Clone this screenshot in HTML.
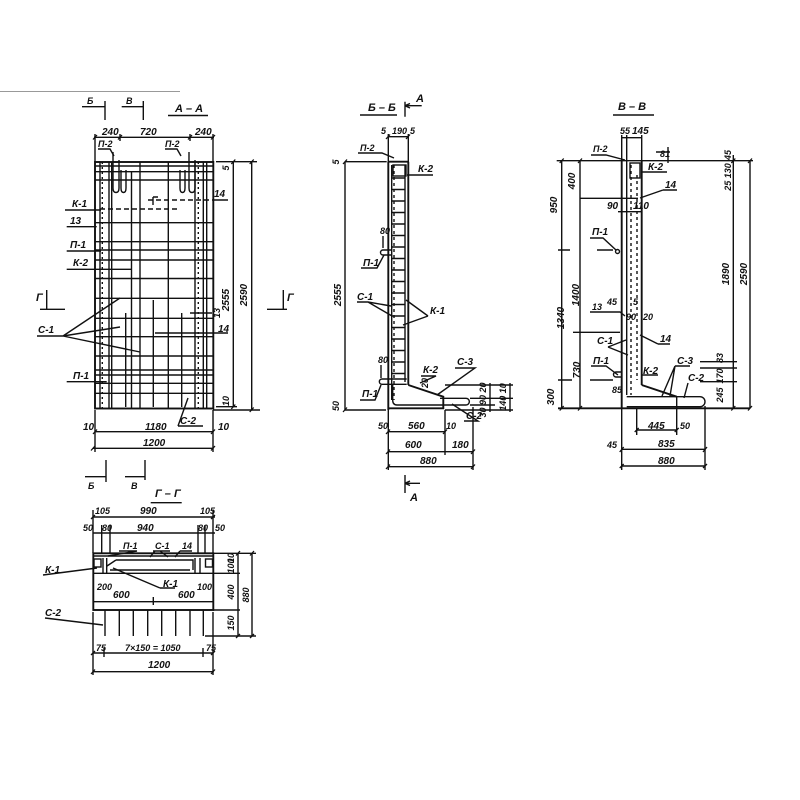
<!DOCTYPE html>
<html><head><meta charset="utf-8"><style>
html,body{margin:0;padding:0;background:#fff;}
svg{display:block;}
text{font-family:"Liberation Sans",sans-serif;font-style:italic;font-weight:bold;font-size:10px;fill:#111;}
.s{font-size:9px;}
.t{font-size:11px;}
</style></head><body>
<svg width="800" height="800" viewBox="0 0 800 800" xmlns="http://www.w3.org/2000/svg">
<rect width="800" height="800" fill="#fff"/>
<line x1="0" y1="91.5" x2="180" y2="91.5" stroke="#999" stroke-width="1"/>
<g stroke="#111" stroke-width="1.4" fill="none">
<!-- ===== A-A ===== -->
<path d="M82,106.7H105M105,101V120M121.7,106.7H143.3M143.3,101V120"/>
<path d="M168,115.5H208"/>
<path d="M94,137.3H214M95,134V162M213,134V162M120,134V141M190,134V141"/>
<path d="M98,149H110L114,156M165,149H177L181,156"/>
<rect x="95" y="162" width="118.3" height="246.5" stroke-width="1.9"/>
<path d="M95,166H213M95,171.7H213M95,180H213M95,222.7H213M95,241.7H213M95,250H213M95,260H213M95,278.5H213M95,298.3H213M95,318.3H213M95,336.7H213M95,356H213M95,370H213M95,375H213M95,383.3H213M95,393.3H213"/>
<path d="M148,200H212M100,209H180" stroke-dasharray="5,3"/>
<path d="M153,197V205M153,197H158"/>
<path d="M100,162V408M109,162V408M111.7,162V408M131.5,172V408M140,162V408M168.3,162V408M195,162V408M203.3,162V408M206.7,162V408M125.7,313V407M153.3,300V407M181.7,313V407"/>
<path d="M102.3,162V408M198.3,162V408" stroke-dasharray="2,3"/>
<path d="M113,152V188Q113,192.5 116,192.5Q119,192.5 119,188V160M121,170V188Q121,192.5 123.5,192.5Q126,192.5 126,188V170"/>
<path d="M180,170V188Q180,192.5 182.5,192.5Q185,192.5 185,188V170M189,152V188Q189,192.5 192,192.5Q195,192.5 195,188V160"/>
<path d="M216,161.7H257M233.3,161.7V407M251.7,161.7V410M216,406.7H237M213,410H260"/>
<path d="M212,200H228M155,333H228M190,313H212"/>
<path d="M40,309.3H65M46.7,290V309M267,309.3H287M283.3,290V309"/>
<path d="M65,210H101M66.7,226.7H96.7M66.7,251H101M66.7,269.3H131.7M37,336H63L120,298M63,336L120,327M63,336L140,352M66.7,381.7H106.7"/>
<path d="M178,426H203M178,426L188,398"/>
<path d="M95,410V452M213,410V452M95,431.7H213M93,448.3H213"/>
<!-- ===== Г-Г ===== -->
<path d="M85,476.7H106M106,460V482M125,476.7H145M145,460V480"/>
<path d="M150.7,502.7H181.7"/>
<path d="M93,517H215M93,533H215M93,510V553M213,510V553M101.7,525V553M110,525V553M198,525V553M205,525V553"/>
<rect x="93.3" y="553.3" width="120" height="56.7" stroke-width="1.9"/>
<path d="M93.3,556H213.3M93.3,573.3H213.3"/>
<path d="M103,573V558M106.7,573V558M195,573V558M200,573V558M116,560H193V570M107,566L116,560M110,570H190"/>
<rect x="94" y="559" width="7" height="8"/><rect x="205.5" y="559" width="7" height="8"/>
<path d="M119,551H137L108,556M153,551H170M155,551L150,557M160,551L168,557M180,551H192M180,551L175,557"/>
<path d="M43,575L97,568M160,588H175M160,588L113,568"/>
<path d="M93,601.7H213M153.3,597V605"/>
<path d="M105,610V636M119.3,610V636M133.3,610V636M147.7,610V636M161.7,610V636M175.7,610V636M190,610V636M203.3,610V636"/>
<path d="M45,618L103,625"/>
<path d="M238,553V636M252,553V636M213,553.3H256M213,573.3H240M213,610H240M205,636H256"/>
<path d="M93,653H213M104,648V657M203,648V657M93,671.7H213M93,612V675M213,612V675"/>
<!-- ===== Б-Б ===== -->
<path d="M360,115H397"/>
<path d="M405,101.7V116.7M405,105.7H421.7M405,105.7L410,103.5M405,105.7L410,108"/>
<path d="M388,136.7H408.3M388.3,134V162M408.3,134V162"/>
<path d="M388.3,161.7V410M408.3,161.7V385M388.3,161.7H408.3" stroke-width="1.9"/>
<path d="M391.7,165V400M405,165V382"/>
<path d="M394,165V400" stroke-dasharray="3,3"/>
<path d="M391.7,178H405M391.7,189.5H405M391.7,201H405M391.7,212.5H405M391.7,224H405M391.7,235.5H405M391.7,247H405M391.7,258.5H405M391.7,270H405M391.7,281.5H405M391.7,293H405M391.7,304.5H405M391.7,316H405M391.7,327.5H405M391.7,339H405M391.7,350.5H405M391.7,362H405M391.7,373.5H405"/>
<rect x="393" y="165" width="13" height="11"/>
<path d="M358,153H382L394,158M407,175H433"/>
<path d="M345,161.7H386.7M345,161.7V410M345,410H386"/>
<path d="M383,236V248M391.7,250H383A2.5,2.5 0 0 0 383,255H391.7M361,268H377L384,255"/>
<path d="M357,302H368L391,306M368,302L392,316M428,316L403,325M428,316L406,300"/>
<path d="M381,365V378M406.7,379H382A2.6,2.6 0 0 0 382,384.3H406.7M360,400H375L381,385"/>
<path d="M408.3,385L443.3,396.7V408.3H388.3" stroke-width="1.9"/>
<path d="M392.7,384V400Q392.7,405 397,405H440"/>
<path d="M440,398.3H466A3.3,3.3 0 0 1 466,405H440"/>
<path d="M421,376H436L420,383M455,368H475L437,395M464,421H478L452,404"/>
<path d="M445,385H513M470,398.3H513M470,405H495M445,410H513M490,383V412M510,383V412"/>
<path d="M388.3,410V470M445,410V455M473,407V470M388,431.7H445M388,451.7H473M388,466.7H473"/>
<path d="M405,475V493M405,483.3H420M405,483.3L410,481M405,483.3L410,485.5"/>
<!-- ===== В-В ===== -->
<path d="M613,115H654"/>
<path d="M621,137.7H642M621.7,135V161M626.7,135V161M641.7,135V161"/>
<path d="M591,155H606L625,160M656,152H670M668,147V163"/>
<path d="M556.7,160.7H753"/>
<path d="M621.7,160.7V408M641.7,160.7V385" stroke-width="1.9"/>
<path d="M626.7,160.7V395"/>
<path d="M637,175V380M631,165V395" stroke-dasharray="3,3"/>
<rect x="630" y="163" width="10" height="15"/>
<path d="M641.7,172H667M663,190H677M663,190L640,198M580,198.3H638M618,211.7H642"/>
<path d="M561.7,160.7V408M580,160.7V408M733.3,155V408M750,160.7V408"/>
<path d="M590,238H603L616,250M558,250H570M597,250H613"/>
<circle cx="617.5" cy="251.5" r="2"/>
<path d="M590,312H620L625,316M573,332.3H620M658,344H670M658,344L640,335M608,347L626,340M608,347L628,355"/>
<path d="M591,366H606L618,375M621.7,372H616A2.5,2.5 0 0 0 616,377H621.7M641.7,375H658"/>
<path d="M558,380H572M590,380H613"/>
<path d="M675,366H690M675,366L670,396M675,366L662,396M688,383L684,398"/>
<path d="M700,361.7H737M700,368H737M700,381.7H737"/>
<path d="M641.7,385L676.7,396.7" stroke-width="1.9"/>
<path d="M558,408.3H750" stroke-width="1.9"/>
<path d="M626.7,396.7H700A5,5 0 0 1 700,406.7H626.7"/>
<path d="M676.7,396.7V408"/>
<path d="M621.7,408V470M636.7,408V435M676.7,408V435M705,406V470M636.7,430H676.7M621.7,449.3H705M621.7,466H705"/>
</g>
<!-- dim ticks -->
<g stroke="#111" stroke-width="1.3">
<path d="M93,139.5L97,135M118,139.5L122,135M188,139.5L192,135M211,139.5L215,135M93,434L97,429.5M211,434L215,429.5M91,450.5L95,446M211,450.5L215,446M386,139L390,134.5M406,139L410,134.5M386,434L390,429.5M443,434L447,429.5M386,454L390,449.5M471,454L475,449.5M386,469L390,464.5M471,469L475,464.5M619.7,452L623.7,447M703,452L707,447M619.7,468L623.7,464M703,468L707,464M634.7,432L638.7,428M674.7,432L678.7,428M559.7,163L563.7,158.5M578,163L582,158.5M731.3,163L735.3,158.5M748,163L752,158.5M559.7,410.5L563.7,406M578,410.5L582,406M731.3,410.5L735.3,406M748,410.5L752,406M231.3,164L235.3,159.5M249.7,164L253.7,159.5M231.3,409L235.3,404.5M249.7,412L253.7,407.5M343,164L347,159.5M343,412L347,407.5M91,519L95,515M211,519L215,515M91,655L95,651M211,655L215,651M91,674L95,669.5M211,674L215,669.5M236,555.5L240,551M250,555.5L254,551M236,638L240,634M250,638L254,634"/>
</g>
<!-- ===== texts A-A ===== -->
<text x="87" y="104" class="s">Б</text>
<text x="126" y="104" class="s">В</text>
<text x="175" y="112" class="t">А – А</text>
<text x="102" y="135">240</text>
<text x="140" y="135">720</text>
<text x="195" y="135">240</text>
<text x="98" y="147" class="s">П-2</text>
<text x="165" y="147" class="s">П-2</text>
<text x="72" y="207">К-1</text>
<text x="70" y="224">13</text>
<text x="70" y="248">П-1</text>
<text x="73" y="266">К-2</text>
<text x="38" y="333">С-1</text>
<text x="73" y="379">П-1</text>
<text x="36" y="301" class="t">Г</text>
<text x="287" y="301" class="t">Г</text>
<text x="214" y="197">14</text>
<text x="218" y="332">14</text>
<text x="180" y="424">С-2</text>
<text x="83" y="430">10</text>
<text x="145" y="430">1180</text>
<text x="218" y="430">10</text>
<text x="143" y="446">1200</text>
<text transform="translate(229,168) rotate(-90)" text-anchor="middle" class="s">5</text>
<text transform="translate(229,300) rotate(-90)" text-anchor="middle">2555</text>
<text transform="translate(247,295) rotate(-90)" text-anchor="middle">2590</text>
<text transform="translate(220,313) rotate(-90)" text-anchor="middle" class="s">13</text>
<text transform="translate(229,401) rotate(-90)" text-anchor="middle" class="s">10</text>
<!-- ===== texts Г-Г ===== -->
<text x="88" y="489" class="s">Б</text>
<text x="131" y="489" class="s">В</text>
<text x="155" y="497" class="t">Г – Г</text>
<text x="95" y="514" class="s">105</text>
<text x="140" y="514">990</text>
<text x="200" y="514" class="s">105</text>
<text x="83" y="531" class="s">50</text>
<text x="102" y="531" class="s">80</text>
<text x="137" y="531">940</text>
<text x="198" y="531" class="s">80</text>
<text x="215" y="531" class="s">50</text>
<text x="123" y="549" class="s">П-1</text>
<text x="155" y="549" class="s">С-1</text>
<text x="182" y="549" class="s">14</text>
<text x="45" y="573">К-1</text>
<text x="163" y="587">К-1</text>
<text x="97" y="590" class="s">200</text>
<text x="197" y="590" class="s">100</text>
<text x="113" y="598">600</text>
<text x="178" y="598">600</text>
<text x="45" y="616">С-2</text>
<text x="96" y="651" class="s">75</text>
<text x="125" y="651" class="s">7×150 = 1050</text>
<text x="206" y="651" class="s">75</text>
<text x="148" y="668">1200</text>
<text transform="translate(234,558) rotate(-90)" text-anchor="middle" class="s">10</text>
<text transform="translate(234,566) rotate(-90)" text-anchor="middle" class="s">100</text>
<text transform="translate(234,592) rotate(-90)" text-anchor="middle" class="s">400</text>
<text transform="translate(249,595) rotate(-90)" text-anchor="middle" class="s">880</text>
<text transform="translate(234,623) rotate(-90)" text-anchor="middle" class="s">150</text>
<!-- ===== texts Б-Б ===== -->
<text x="368" y="111" class="t">Б – Б</text>
<text x="416" y="102" class="t">А</text>
<text x="381" y="134" class="s">5</text>
<text x="392" y="134" class="s">190</text>
<text x="410" y="134" class="s">5</text>
<text x="360" y="151" class="s">П-2</text>
<text x="418" y="172">К-2</text>
<text x="380" y="234" class="s">80</text>
<text x="363" y="266">П-1</text>
<text x="357" y="300">С-1</text>
<text x="430" y="314">К-1</text>
<text x="378" y="363" class="s">80</text>
<text x="423" y="373">К-2</text>
<text x="457" y="365">С-3</text>
<text x="362" y="397">П-1</text>
<text x="466" y="419">С-2</text>
<text x="378" y="429" class="s">50</text>
<text x="408" y="429">560</text>
<text x="446" y="429" class="s">10</text>
<text x="405" y="448">600</text>
<text x="452" y="448">180</text>
<text x="420" y="464">880</text>
<text x="410" y="501" class="t">А</text>
<text transform="translate(339,162) rotate(-90)" text-anchor="middle" class="s">5</text>
<text transform="translate(341,295) rotate(-90)" text-anchor="middle">2555</text>
<text transform="translate(339,406) rotate(-90)" text-anchor="middle" class="s">50</text>
<text transform="translate(428,383) rotate(-90)" text-anchor="middle" class="s">20</text>
<text transform="translate(486,400) rotate(-90)" text-anchor="middle" class="s">30 90 20</text>
<text transform="translate(506,397) rotate(-90)" text-anchor="middle" class="s">140 10</text>
<!-- ===== texts В-В ===== -->
<text x="618" y="110" class="t">В – В</text>
<text x="620" y="134" class="s">55</text>
<text x="632" y="134">145</text>
<text x="593" y="152" class="s">П-2</text>
<text x="660" y="157" class="s">81</text>
<text x="648" y="170">К-2</text>
<text x="665" y="188">14</text>
<text x="607" y="209">90</text>
<text x="633" y="209">110</text>
<text x="592" y="235">П-1</text>
<text x="592" y="310" class="s">13</text>
<text x="607" y="305" class="s">45</text>
<text x="633" y="305" class="s">5</text>
<text x="626" y="320" class="s">90</text>
<text x="643" y="320" class="s">20</text>
<text x="660" y="342">14</text>
<text x="597" y="344">С-1</text>
<text x="593" y="364">П-1</text>
<text x="643" y="374">К-2</text>
<text x="677" y="364">С-3</text>
<text x="688" y="381">С-2</text>
<text x="612" y="393" class="s">85</text>
<text x="648" y="429">445</text>
<text x="680" y="429" class="s">50</text>
<text x="607" y="448" class="s">45</text>
<text x="658" y="447">835</text>
<text x="658" y="464">880</text>
<text transform="translate(575,181) rotate(-90)" text-anchor="middle">400</text>
<text transform="translate(557,205) rotate(-90)" text-anchor="middle">950</text>
<text transform="translate(579,295) rotate(-90)" text-anchor="middle">1400</text>
<text transform="translate(564,318) rotate(-90)" text-anchor="middle">1340</text>
<text transform="translate(580,370) rotate(-90)" text-anchor="middle">730</text>
<text transform="translate(554,397) rotate(-90)" text-anchor="middle">300</text>
<text transform="translate(731,155) rotate(-90)" text-anchor="middle" class="s">45</text>
<text transform="translate(731,177) rotate(-90)" text-anchor="middle" class="s">25 130</text>
<text transform="translate(729,274) rotate(-90)" text-anchor="middle">1890</text>
<text transform="translate(747,274) rotate(-90)" text-anchor="middle">2590</text>
<text transform="translate(723,358) rotate(-90)" text-anchor="middle" class="s">83</text>
<text transform="translate(723,376) rotate(-90)" text-anchor="middle" class="s">170</text>
<text transform="translate(723,395) rotate(-90)" text-anchor="middle" class="s">245</text>
</svg>
</body></html>
